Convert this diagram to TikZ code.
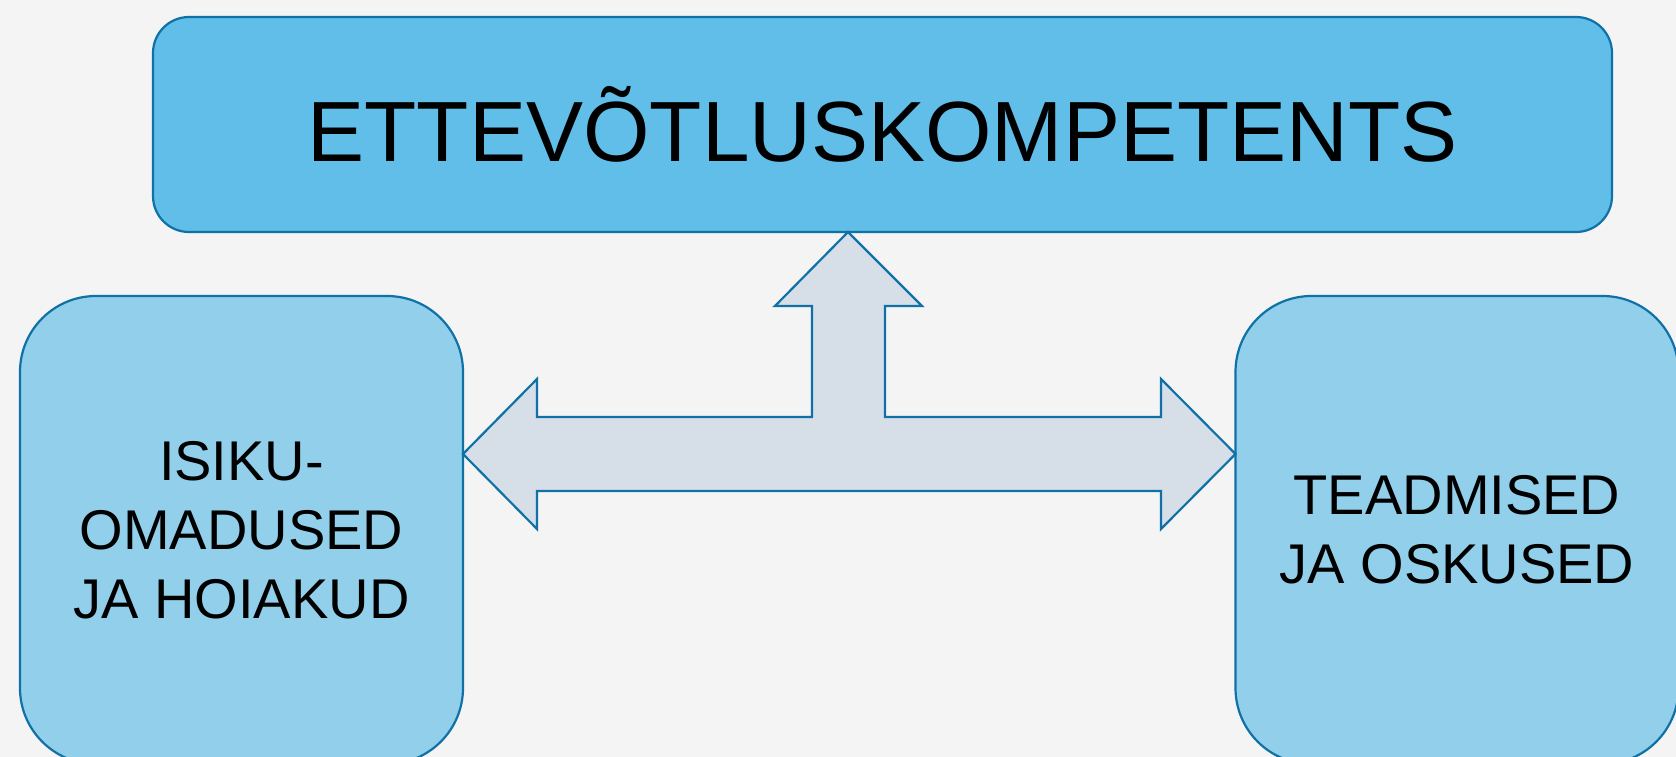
\documentclass[tikz,border=0pt]{standalone}
\usepackage{fontspec}
\setmainfont{Liberation Sans}
\definecolor{bgc}{HTML}{F4F4F4}
\definecolor{topfill}{HTML}{61BEE9}
\definecolor{sidefill}{HTML}{92CFEA}
\definecolor{edgec}{HTML}{1071A7}
\definecolor{arrowfill}{HTML}{D6DEE8}
\begin{document}
\begin{tikzpicture}[x=1pt,y=-1pt,
  topbox/.style={draw=edgec,line width=2.2pt,fill=topfill,rounded corners=36pt,
    minimum width=1459pt,minimum height=215pt,inner sep=0pt,outer sep=0pt,
    font=\fontsize{85.5}{100}\selectfont},
  sidebox/.style={draw=edgec,line width=2.2pt,fill=sidefill,rounded corners=76pt,
    minimum width=443pt,minimum height=468pt,inner sep=0pt,outer sep=0pt,
    align=center,font=\fontsize{56}{69}\selectfont},
  bigarrow/.style={draw=edgec,line width=2.2pt,fill=arrowfill,line join=miter}]
\useasboundingbox (0,0) rectangle (1676,757);
\clip (0,0) rectangle (1676,757);
\fill[bgc] (0,0) rectangle (1676,757);
\node[topbox] (top) at (882.5,124.5) {ETTEVÕTLUSKOMPETENTS};
\node[sidebox] (left) at (241.5,530) {ISIKU-\\OMADUSED\\JA HOIAKUD};
\node[sidebox] (right) at (1457,530) {TEADMISED\\JA OSKUSED};
\coordinate (axisy) at (0,454);
\coordinate (tipx) at (848,0);
\draw[bigarrow] (left.east |- axisy) -- (537,379) -- (537,417) -- (812,417) -- (812,306)
  -- (775,306) -- (tipx |- top.south) -- (922,306) -- (885,306) -- (885,417)
  -- (1161,417) -- (1161,379) -- (right.west |- axisy) -- (1161,529) -- (1161,491)
  -- (537,491) -- (537,529) -- cycle;
\end{tikzpicture}
\end{document}
